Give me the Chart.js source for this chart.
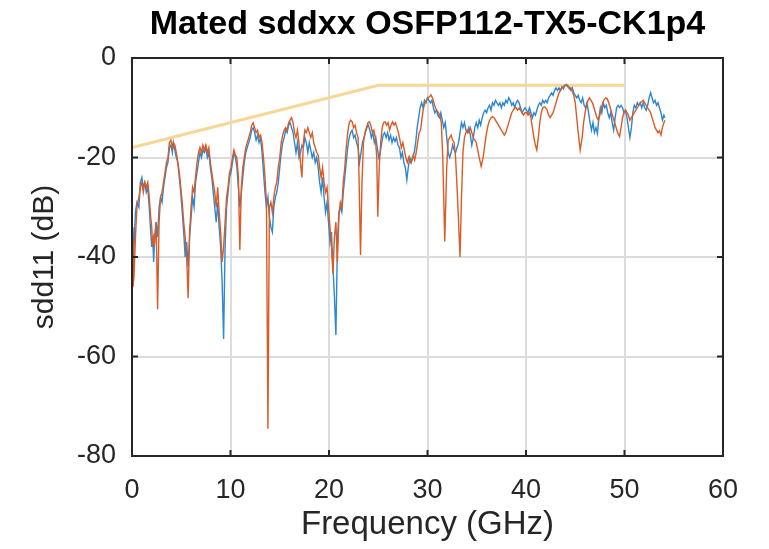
<!DOCTYPE html>
<html>
<head>
<meta charset="utf-8">
<script src="https://cdn.jsdelivr.net/npm/chart.js@4.4.0/dist/chart.umd.min.js"></script>
<style>
  html, body { margin: 0; padding: 0; background: #fff; }
  #wrap { width: 769px; height: 549px; }
</style>
</head>
<body>
<div id="wrap"><canvas id="myChart"></canvas></div>
<script>
const chartTitle = 'Mated sddxx OSFP112-TX5-CK1p4';
const xTitle = 'Frequency (GHz)';
const yTitle = 'sdd11 (dB)';
const xTicks = [0, 10, 20, 30, 40, 50, 60];
const yTicks = [-80, -60, -40, -20, 0];

// [GHz, dB]
const blueSdd11 = [
  [0,-34],[0.1,-42],[0.2,-38],[0.35,-31],[0.5,-29],[0.7,-30],[0.85,-25],[1,-24],[1.15,-26],[1.3,-25],
  [1.45,-27],[1.6,-26],[1.75,-30],[1.9,-35],[2,-38],[2.1,-36],[2.2,-41],[2.3,-36],[2.45,-33],[2.6,-36],
  [2.75,-30],[2.9,-28],[3.05,-29],[3.2,-26],[3.35,-24],[3.5,-22],[3.65,-21],[3.8,-18],[3.95,-17.5],[4.1,-19],
  [4.2,-17],[4.35,-18.5],[4.5,-20],[4.65,-21],[4.8,-24],[4.95,-27],[5.1,-31],[5.25,-35],[5.4,-40],[5.55,-37],
  [5.7,-42],[5.85,-36],[6,-32],[6.15,-28],[6.3,-30],[6.45,-25],[6.6,-23],[6.75,-21],[6.9,-19],[7.05,-20],
  [7.2,-18.5],[7.35,-19],[7.5,-18],[7.65,-20],[7.8,-19],[7.95,-22],[8.1,-24],[8.25,-27],[8.4,-30],[8.55,-33],
  [8.7,-29],[8.85,-34],[9,-38],[9.15,-45],[9.3,-56.5],[9.45,-38],[9.6,-30],[9.75,-27],[9.9,-24],[10.05,-23],
  [10.2,-21],[10.35,-19],[10.5,-20],[10.65,-22],[10.8,-26],[10.95,-30],[11.1,-27],[11.25,-24],[11.4,-21],[11.55,-19],
  [11.7,-18],[11.85,-17],[12,-16],[12.15,-14.5],[12.3,-14],[12.45,-15],[12.6,-16.5],[12.75,-15.5],[12.9,-17],[13.05,-16],
  [13.2,-19],[13.35,-23],[13.5,-27],[13.65,-30],[13.8,-28],[13.95,-32],[14.1,-34],[14.25,-35],[14.4,-30],[14.55,-28],
  [14.7,-27],[14.85,-25],[15,-22],[15.15,-19],[15.3,-17],[15.45,-16],[15.6,-14.5],[15.75,-15],[15.9,-13.5],[16.05,-13],
  [16.2,-14],[16.35,-15],[16.5,-17],[16.65,-19],[16.8,-17],[16.95,-20],[17.1,-19],[17.25,-17.5],[17.4,-18],[17.55,-16],
  [17.7,-17],[17.85,-19],[18,-17],[18.15,-18.5],[18.3,-20],[18.45,-19],[18.6,-21],[18.75,-20],[18.9,-22],[19.05,-25],
  [19.2,-27],[19.35,-24],[19.5,-28],[19.65,-31],[19.8,-29],[19.95,-33],[20.1,-37],[20.25,-35],[20.4,-42],[20.55,-48],
  [20.7,-55.7],[20.85,-38],[21,-31],[21.15,-30],[21.3,-31],[21.45,-27],[21.6,-24],[21.75,-21],[21.9,-18],[22.05,-16],
  [22.2,-15],[22.35,-14.5],[22.5,-16],[22.65,-15.5],[22.8,-17],[22.95,-18],[23.1,-21],[23.25,-19],[23.4,-17],[23.55,-16],
  [23.7,-15],[23.85,-14],[24,-13.5],[24.15,-14.5],[24.3,-16],[24.45,-15],[24.6,-17],[24.75,-16],[24.9,-18],[25.05,-20],
  [25.2,-19],[25.35,-17],[25.5,-15.5],[25.65,-15],[25.8,-16],[25.95,-15],[26.1,-16.5],[26.25,-15.5],[26.4,-17],[26.55,-16],
  [26.7,-16.8],[26.85,-16],[27,-17.5],[27.15,-18],[27.3,-20],[27.45,-19],[27.6,-21],[27.75,-22],[27.9,-24.5],[28.05,-22],
  [28.2,-20],[28.35,-21],[28.5,-20],[28.65,-19],[28.8,-17],[28.95,-14],[29.1,-12],[29.25,-10],[29.4,-9],[29.55,-10],
  [29.7,-8.5],[29.85,-9],[30,-8],[30.15,-8.5],[30.3,-9],[30.45,-8.5],[30.6,-10],[30.75,-11],[30.9,-10.5],[31.05,-11.5],
  [31.2,-12],[31.35,-11],[31.5,-12.5],[31.65,-14],[31.8,-13],[31.95,-16],[32.1,-19],[32.25,-20],[32.4,-19],[32.55,-17.5],
  [32.7,-18.5],[32.85,-19],[33,-18],[33.15,-17],[33.3,-15],[33.45,-13],[33.6,-14],[33.75,-13],[33.9,-14.5],[34.05,-15],
  [34.2,-14],[34.35,-15.5],[34.5,-17.5],[34.65,-16],[34.8,-14],[34.95,-13],[35.1,-14],[35.25,-12.5],[35.4,-13.5],[35.55,-12],
  [35.7,-11],[35.85,-10.5],[36,-11],[36.15,-10],[36.3,-9.5],[36.45,-10.5],[36.6,-9],[36.75,-9.5],[36.9,-8.5],[37.05,-9],
  [37.2,-9.5],[37.35,-9],[37.5,-10],[37.65,-9],[37.8,-9.5],[37.95,-8.5],[38.1,-9],[38.25,-8],[38.4,-8.5],[38.55,-9.5],
  [38.7,-9],[38.85,-10],[39,-9],[39.15,-8.5],[39.3,-9],[39.45,-10],[39.6,-11],[39.75,-10.5],[39.9,-10],[40.05,-10.5],
  [40.2,-11],[40.35,-10],[40.5,-11],[40.65,-12],[40.8,-11],[40.95,-11.5],[41.1,-10.5],[41.25,-9.5],[41.4,-9],[41.55,-9.5],
  [41.7,-8.5],[41.85,-9],[42,-8.5],[42.15,-9],[42.3,-8],[42.45,-7.5],[42.6,-7],[42.75,-7.5],[42.9,-6.5],[43.05,-6],
  [43.2,-6.5],[43.35,-6],[43.5,-6.5],[43.65,-5.8],[43.8,-6.2],[43.95,-5.5],[44.1,-5.3],[44.25,-5.6],[44.4,-5.9],[44.55,-6.5],
  [44.7,-6],[44.85,-7],[45,-7.5],[45.15,-8],[45.3,-7.5],[45.45,-8.5],[45.6,-9],[45.75,-8],[45.9,-9.5],[46.05,-10],
  [46.2,-9],[46.35,-11],[46.5,-13],[46.65,-14.5],[46.8,-13],[46.95,-15],[47.1,-14],[47.25,-15.2],[47.4,-12],[47.55,-10],
  [47.7,-11],[47.85,-9],[48,-10],[48.15,-9.5],[48.3,-11],[48.45,-12],[48.6,-11],[48.75,-13],[48.9,-14.5],[49.05,-12],
  [49.2,-10],[49.35,-9.5],[49.5,-10],[49.65,-9.5],[49.8,-10],[49.95,-11],[50.1,-10.5],[50.25,-12],[50.4,-14],[50.55,-16],
  [50.7,-14],[50.85,-11],[51,-9.5],[51.15,-10],[51.3,-9],[51.45,-9.5],[51.6,-9],[51.75,-10],[51.9,-9],[52.05,-10],
  [52.2,-10.5],[52.35,-9.5],[52.5,-8],[52.65,-7],[52.8,-8],[52.95,-9],[53.1,-8.5],[53.25,-9.5],[53.4,-9],[53.55,-10],
  [53.7,-11],[53.85,-12.5],[54,-11.5],[54.1,-12]
];

const orangeSdd11 = [
  [0,-36],[0.1,-46],[0.2,-44],[0.35,-36],[0.5,-30],[0.7,-28],[0.85,-26],[1,-25],[1.15,-27],[1.3,-25],
  [1.45,-26],[1.6,-25],[1.75,-28],[1.9,-32],[2,-34],[2.1,-38],[2.2,-36],[2.3,-37],[2.45,-33],[2.6,-50.5],
  [2.75,-33],[2.9,-28],[3.05,-27],[3.2,-25],[3.35,-23],[3.5,-21],[3.65,-20],[3.8,-17],[3.95,-16.5],[4.1,-18],
  [4.2,-17],[4.35,-17.5],[4.5,-19],[4.65,-21],[4.8,-23],[4.95,-26],[5.1,-29],[5.25,-33],[5.4,-36],[5.55,-40],
  [5.7,-48.3],[5.85,-35],[6,-30],[6.15,-26],[6.3,-27],[6.45,-24],[6.6,-21],[6.75,-19],[6.9,-18],[7.05,-19],
  [7.2,-17.5],[7.35,-18.5],[7.5,-17.5],[7.65,-19],[7.8,-18],[7.95,-21],[8.1,-23],[8.25,-25],[8.4,-27],[8.55,-30],
  [8.7,-26],[8.85,-31],[9,-35],[9.15,-41],[9.3,-38],[9.45,-33],[9.6,-28],[9.75,-26],[9.9,-23],[10.05,-22],
  [10.2,-20],[10.35,-18.5],[10.5,-19.5],[10.65,-20],[10.8,-24],[10.95,-38.6],[11.1,-26],[11.25,-22],[11.4,-20],[11.55,-18],
  [11.7,-17],[11.85,-16],[12,-15],[12.15,-13.5],[12.3,-13],[12.45,-14],[12.6,-15],[12.75,-14.5],[12.9,-16],[13.05,-15.5],
  [13.2,-17],[13.35,-20],[13.5,-24],[13.65,-29],[13.8,-74.5],[13.95,-30],[14.1,-29],[14.25,-31],[14.4,-28],[14.55,-26],
  [14.7,-25],[14.85,-22],[15,-20],[15.15,-17],[15.3,-15.5],[15.45,-14.5],[15.6,-14],[15.75,-14.5],[15.9,-13],[16.05,-12.5],
  [16.2,-12],[16.35,-13],[16.5,-15],[16.65,-16],[16.8,-14.5],[16.95,-17],[17.1,-21],[17.25,-24],[17.4,-17],[17.55,-14.5],
  [17.7,-15],[17.85,-14],[18,-15],[18.15,-16],[18.3,-15],[18.45,-17],[18.6,-18],[18.75,-19],[18.9,-19.5],[19.05,-22],
  [19.2,-24],[19.35,-22],[19.5,-25],[19.65,-27],[19.8,-26],[19.95,-30],[20.1,-34],[20.25,-38],[20.4,-43.3],[20.55,-36],
  [20.7,-33],[20.85,-41],[21,-32],[21.15,-29],[21.3,-30],[21.45,-25],[21.6,-22],[21.75,-18],[21.9,-15],[22.05,-13],
  [22.2,-12.5],[22.35,-12.8],[22.5,-14],[22.65,-13.5],[22.8,-15],[22.95,-16],[23.05,-24],[23.2,-39.6],[23.35,-25],[23.5,-17],
  [23.65,-15],[23.8,-14],[23.95,-13],[24.1,-12.8],[24.25,-13.5],[24.4,-15],[24.55,-14.5],[24.7,-16],[24.85,-20],[24.95,-31.9],
  [25.1,-22],[25.25,-17],[25.4,-14],[25.55,-13],[25.7,-12.8],[25.85,-13.5],[26,-13],[26.15,-14.5],[26.3,-13.5],[26.45,-12.8],
  [26.6,-13.5],[26.75,-13],[26.9,-14],[27.05,-15],[27.2,-16.5],[27.35,-18],[27.5,-17],[27.65,-18.5],[27.8,-20],[27.95,-21],
  [28.1,-20],[28.25,-21],[28.4,-20.5],[28.55,-19.5],[28.7,-20.5],[28.85,-19],[29,-17],[29.15,-15],[29.3,-14.5],[29.45,-12],
  [29.6,-10],[29.75,-9],[29.9,-8.5],[30.05,-8],[30.2,-7.8],[30.35,-7.4],[30.5,-8],[30.65,-9],[30.8,-10],[30.95,-10.5],
  [31.1,-11],[31.25,-11.5],[31.4,-13],[31.55,-20],[31.75,-36.9],[31.95,-22],[32.1,-16.5],[32.25,-16],[32.4,-15.5],[32.55,-16.5],
  [32.7,-17],[32.85,-20],[33,-26],[33.2,-35],[33.3,-40],[33.45,-28],[33.6,-19],[33.75,-16],[33.9,-15],[34.05,-14.5],
  [34.2,-15],[34.35,-14],[34.5,-15],[34.65,-16],[34.8,-16.5],[34.95,-17],[35.1,-18.5],[35.25,-20],[35.45,-21.8],[35.65,-20],
  [35.85,-17],[36,-15],[36.15,-13.5],[36.3,-12.5],[36.45,-12],[36.6,-11.8],[36.75,-12],[36.9,-12.5],[37.05,-13],[37.2,-13.5],
  [37.35,-14],[37.5,-14.5],[37.65,-15],[37.8,-15.5],[37.95,-15],[38.1,-14],[38.25,-13],[38.4,-12],[38.55,-11],[38.7,-10.5],
  [38.85,-10],[39,-10],[39.15,-10.5],[39.3,-10],[39.45,-10.5],[39.6,-11],[39.75,-11.5],[39.9,-11],[40.05,-11],[40.2,-11.5],
  [40.35,-11],[40.5,-12],[40.65,-14],[40.8,-16],[40.95,-17.5],[41.1,-18.5],[41.25,-16],[41.4,-13],[41.55,-11],[41.7,-10],
  [41.85,-9.8],[42,-10],[42.15,-10.5],[42.3,-11.5],[42.45,-12],[42.6,-11.5],[42.75,-11],[42.9,-10],[43.05,-9],[43.2,-8],
  [43.35,-7],[43.5,-6.5],[43.65,-6],[43.8,-5.7],[43.95,-5.5],[44.1,-5.5],[44.25,-5.8],[44.4,-6.2],[44.55,-6],[44.7,-6.8],
  [44.85,-7.5],[45,-9],[45.15,-12],[45.3,-15],[45.5,-18.5],[45.7,-16],[45.85,-13],[46,-11],[46.15,-9.5],[46.3,-8.5],
  [46.45,-8],[46.6,-8.5],[46.75,-9],[46.9,-10],[47.05,-11],[47.2,-12],[47.35,-12.5],[47.5,-11.5],[47.65,-10],[47.8,-9],
  [47.95,-8.3],[48.1,-8],[48.25,-8.2],[48.4,-9],[48.55,-10],[48.7,-11],[48.85,-12],[49,-13],[49.15,-14],[49.3,-15],
  [49.5,-15.8],[49.65,-14],[49.8,-12],[49.95,-11],[50.1,-10.5],[50.25,-11],[50.4,-11.5],[50.55,-12.5],[50.7,-12],[50.85,-11.5],
  [51,-11],[51.15,-10.5],[51.3,-10],[51.45,-9.5],[51.6,-9],[51.75,-8.8],[51.9,-8.5],[52.05,-9],[52.2,-9.5],[52.35,-10],
  [52.5,-10.5],[52.65,-11],[52.8,-12],[52.95,-13],[53.1,-14],[53.25,-14.5],[53.4,-15],[53.55,-14.6],[53.7,-15.5],[53.85,-14],
  [54,-13],[54.1,-12.5]
];

const limitMask = [[0, -18], [25, -5.5], [50, -5.5]];

function toPoints(list) {
  return list.map(p => ({ x: p[0], y: p[1] }));
}

// box round the plot with inward ticks on all sides
const frameBox = {
  id: 'frameBox',
  afterDatasetsDraw(chart) {
    const { ctx, chartArea: a, scales: { x, y } } = chart;
    ctx.save();
    ctx.strokeStyle = '#262626';
    ctx.lineWidth = 2;
    ctx.strokeRect(a.left, a.top, a.right - a.left, a.bottom - a.top);
    ctx.beginPath();
    for (const v of xTicks) {
      const px = x.getPixelForValue(v);
      ctx.moveTo(px, a.bottom); ctx.lineTo(px, a.bottom - 6);
      ctx.moveTo(px, a.top); ctx.lineTo(px, a.top + 6);
    }
    for (const v of yTicks) {
      const py = y.getPixelForValue(v);
      ctx.moveTo(a.left, py); ctx.lineTo(a.left + 6, py);
      ctx.moveTo(a.right, py); ctx.lineTo(a.right - 6, py);
    }
    ctx.stroke();
    ctx.restore();
  }
};

const fontFamily = '"Liberation Sans", Arial, Helvetica, sans-serif';

const config = {
  type: 'line',
  data: {
    datasets: [
      {
        label: 'orange',
        data: toPoints(orangeSdd11),
        borderColor: 'rgb(220, 90, 35)',
        borderWidth: 1.4,
        pointRadius: 0,
        tension: 0,
        order: 1
      },
      {
        label: 'blue',
        data: toPoints(blueSdd11),
        borderColor: 'rgb(45, 135, 210)',
        borderWidth: 1.4,
        pointRadius: 0,
        tension: 0,
        order: 2
      },
      {
        label: 'limit',
        data: toPoints(limitMask),
        borderColor: 'rgb(247, 214, 150)',
        borderWidth: 3,
        pointRadius: 0,
        tension: 0,
        order: 3
      }
    ]
  },
  options: {
    responsive: true,
    maintainAspectRatio: false,
    animation: false,
    layout: { padding: { left: 0, right: 46, top: 0, bottom: 0 } },
    plugins: {
      legend: { display: false },
      tooltip: { enabled: false },
      title: {
        display: true,
        text: chartTitle,
        fullSize: false,
        color: '#000',
        font: { family: fontFamily, size: 34, weight: 'bold' },
        padding: { top: 4, bottom: 13.2 }
      }
    },
    scales: {
      x: {
        type: 'linear',
        min: 0,
        max: 60,
        afterBuildTicks: scale => { scale.ticks = xTicks.map(v => ({ value: v })); },
        afterFit: scale => { scale.height = 93; },
        grid: { color: '#dcdcdc', lineWidth: 2, drawTicks: false },
        border: { display: false },
        ticks: { color: '#262626', padding: 18, font: { family: fontFamily, size: 27 } },
        title: {
          display: true,
          text: xTitle,
          color: '#262626',
          font: { family: fontFamily, size: 33 },
          padding: { top: 0, bottom: 4 }
        }
      },
      y: {
        type: 'linear',
        min: -80,
        max: 0,
        afterBuildTicks: scale => { scale.ticks = yTicks.map(v => ({ value: v })); },
        afterFit: scale => { scale.width = 132; },
        grid: { color: '#dcdcdc', lineWidth: 2, drawTicks: false },
        border: { display: false },
        ticks: { color: '#262626', padding: 16, font: { family: fontFamily, size: 27 } },
        title: {
          display: true,
          text: yTitle,
          color: '#262626',
          font: { family: fontFamily, size: 30 },
          padding: { top: 27, bottom: 0 }
        }
      }
    }
  },
  plugins: [frameBox]
};

const myChart = new Chart(document.getElementById('myChart'), config);
</script>
</body>
</html>
